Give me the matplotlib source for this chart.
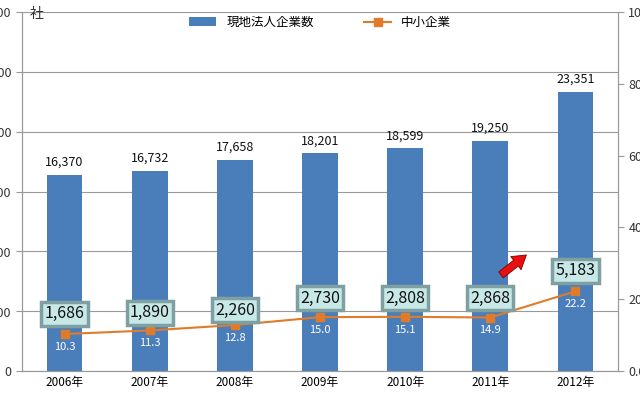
import matplotlib
matplotlib.use("Agg")
import matplotlib.pyplot as plt

plt.rcParams["font.family"] = ["Noto Sans CJK JP"]

years = ["2006年", "2007年", "2008年", "2009年", "2010年", "2011年", "2012年"]
companies = [16370, 16732, 17658, 18201, 18599, 19250, 23351]
sme_share = [10.3, 11.3, 12.8, 15.0, 15.1, 14.9, 22.2]
sme_counts = ["1,686", "1,890", "2,260", "2,730", "2,808", "2,868", "5,183"]
box_pos = [15.9, 16.2, 17.0, 20.3, 20.3, 20.3, 27.9]

fig = plt.figure(figsize=(6.4, 4.0), dpi=100)
ax = fig.add_axes([22/640, 29/400, 596/640, 359/400])
ax2 = ax.twinx()
x = list(range(len(years)))

ax.bar(x, companies, width=0.42, color="#4a7ebb", zorder=2, label="現地法人企業数")
for xi, v in zip(x, companies):
    ax.text(xi, v + 500, f"{v:,}", ha="center", va="bottom", fontsize=9, color="#111")
ax.set_ylim(0, 30000)
ax.set_yticks(range(0, 30001, 5000))
ax.set_yticklabels([f"{t:,}" for t in range(0, 30001, 5000)], fontsize=9, color="#333")
ax.grid(axis="y", color="#999", lw=0.8, zorder=0)
ax.set_xlim(-0.5, 6.5)
ax.set_xticks(x)
ax.set_xticklabels(years, fontsize=8.5)
ax.tick_params(axis="x", length=0)
ax.tick_params(axis="y", length=4, color="#999")
for s in ["top"]:
    ax.spines[s].set_visible(False)
    ax2.spines[s].set_visible(False)
for s in ["left", "right", "bottom"]:
    ax.spines[s].set_color("#999")
    ax2.spines[s].set_color("#999")

ax2.plot(x, sme_share, color="#e07b2a", lw=1.5, marker="s", ms=6, label="中小企業", zorder=3)
ax2.set_ylim(0, 100)
ax2.set_yticks(range(0, 101, 20))
ax2.set_yticklabels(["0.0", "20.0", "40.0", "60.0", "80.0", "100.0"], fontsize=9, color="#333")
ax2.tick_params(axis="y", length=4, color="#999")
for xi, v in zip(x, sme_share):
    ax2.text(xi, v - 2.2, f"{v:.1f}", ha="center", va="top", fontsize=8, color="white")
for xi, b, t in zip(x, box_pos, sme_counts):
    ax2.text(xi, b, t, ha="center", va="center", fontsize=11.5, color="#111", zorder=5,
             bbox=dict(boxstyle="square,pad=0.2", fc="#c8e8e8", ec="#7fa0a0", lw=2.5))
ax2.annotate("", xy=(5.45, 32.8), xytext=(5.1, 26.3), zorder=6,
             arrowprops=dict(arrowstyle="simple,head_width=1.0,head_length=0.8,tail_width=0.45",
                             fc="#e8100f", ec="#7a0000", lw=0.6, mutation_scale=12))

fig.text(30/640, 1 - 14/400, "社", fontsize=10, va="center", color="#333")
h1, l1 = ax.get_legend_handles_labels()
h2, l2 = ax2.get_legend_handles_labels()
ax2.legend(h1 + h2, l1 + l2, loc="upper center", bbox_to_anchor=(0.5, 1.02), ncol=2,
           frameon=False, fontsize=9, handlelength=2.2, columnspacing=4)
fig.savefig("out.png", dpi=100)
